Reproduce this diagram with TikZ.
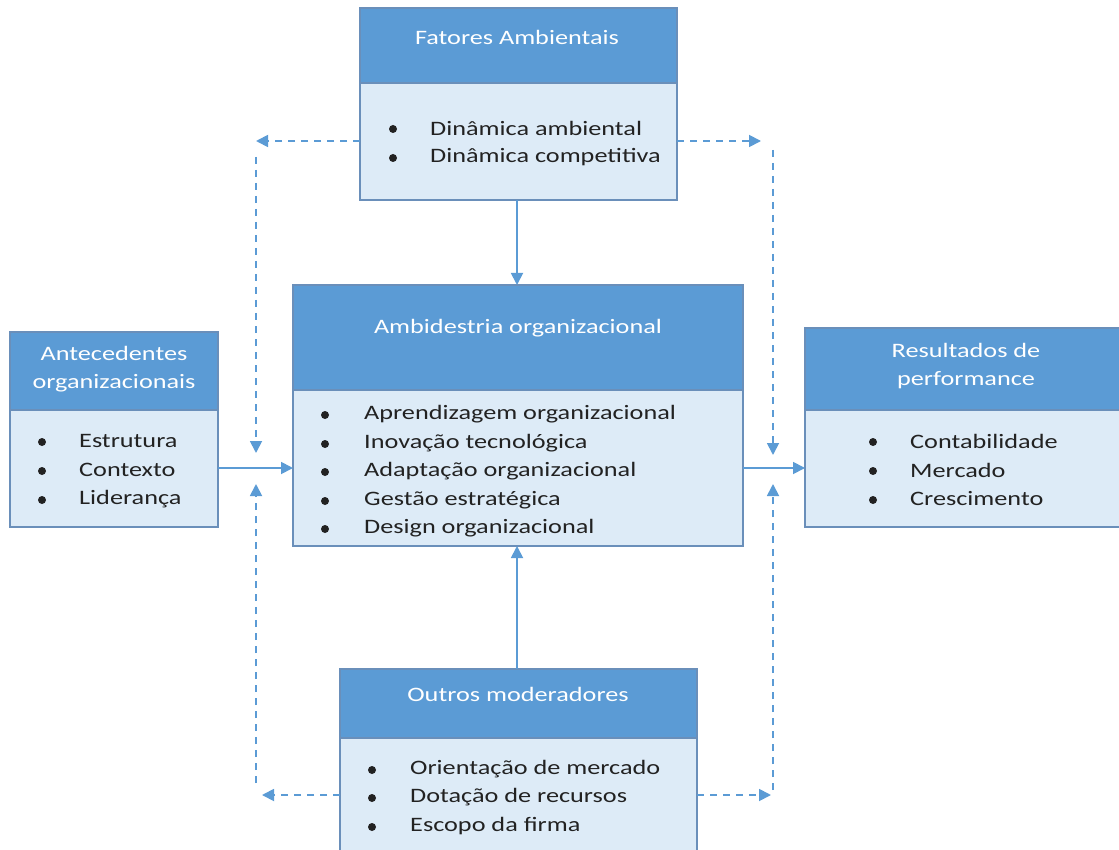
\documentclass[tikz,border=0pt]{standalone}
\usepackage{fontspec}
\setmainfont{Carlito}[FakeStretch=1.28]
\usetikzlibrary{arrows.meta}
\definecolor{hdrblue}{HTML}{5B9BD5}
\definecolor{bodyblue}{HTML}{DDEBF7}
\definecolor{edgeblue}{HTML}{6A8FBA}
\definecolor{linkblue}{HTML}{5B9BD5}
\definecolor{ink}{HTML}{222222}
\tikzset{
  hdr/.style={draw=edgeblue, line width=1.2pt, fill=hdrblue, anchor=north west, inner sep=0pt, outer sep=0pt},
  bodybox/.style={draw=edgeblue, line width=1.2pt, fill=bodyblue, anchor=north west, inner sep=0pt, outer sep=0pt},
  title/.style={text=white, font=\fontsize{20.5}{28}\selectfont, align=center, inner sep=0pt},
  item/.style={text=ink, font=\fontsize{20.5}{28}\selectfont, anchor=west, inner sep=0pt},
  dot/.style={circle, fill=ink, minimum size=8pt, inner sep=0pt},
  solidlink/.style={draw=linkblue, line width=1.8pt, -{Triangle[length=12pt, width=12pt]}},
  dashlink/.style={draw=linkblue, line width=1.8pt, dash pattern=on 7pt off 6pt, -{Triangle[length=12pt, width=12pt]}}
}
\begin{document}
\begin{tikzpicture}[x=1pt, y=-1pt]
\useasboundingbox (0,0) rectangle (1119,850);
\clip (0,0) rectangle (1119,850);

% Fatores Ambientais
\node[hdr, minimum width=317pt, minimum height=75pt] (fatH) at (360,8) {};
\node[bodybox, minimum width=317pt, minimum height=117pt] (fatB) at (360,83) {};
\node[title] (fatT) at (517,37) {Fatores Ambientais};
\node[dot] (fatd1) at (393,129) {}; \node[item] (fat1) at (430,128) {Dinâmica ambiental};
\node[dot] (fatd2) at (393,158) {}; \node[item] (fat2) at (430,157) {Dinâmica competitiva};

% Ambidestria organizacional
\node[hdr, minimum width=450pt, minimum height=105pt] (ambH) at (293,285) {};
\node[bodybox, minimum width=450pt, minimum height=156pt] (ambB) at (293,390) {};
\node[title] (ambT) at (518,328) {Ambidestria organizacional};
\node[dot] (ambd1) at (325,415) {}; \node[item] (amb1) at (364,414) {Aprendizagem organizacional};
\node[dot] (ambd2) at (325,444) {}; \node[item] (amb2) at (364,443) {Inovação tecnológica};
\node[dot] (ambd3) at (325,472) {}; \node[item] (amb3) at (364,471) {Adaptação organizacional};
\node[dot] (ambd4) at (325,501) {}; \node[item] (amb4) at (364,500) {Gestão estratégica};
\node[dot] (ambd5) at (325,529) {}; \node[item] (amb5) at (364,528) {Design organizacional};

% Antecedentes organizacionais
\node[hdr, minimum width=208pt, minimum height=78pt] (antH) at (10,332) {};
\node[bodybox, minimum width=208pt, minimum height=117pt] (antB) at (10,410) {};
\node[title] (antT) at (114,369) {Antecedentes\\organizacionais};
\node[dot] (antd1) at (42,442) {}; \node[item] (ant1) at (79,441) {Estrutura};
\node[dot] (antd2) at (42,471) {}; \node[item] (ant2) at (79,470) {Contexto};
\node[dot] (antd3) at (42,500) {}; \node[item] (ant3) at (79,499) {Liderança};

% Resultados de performance
\node[hdr, minimum width=320pt, minimum height=82pt] (resH) at (805,328) {};
\node[bodybox, minimum width=320pt, minimum height=117pt] (resB) at (805,410) {};
\node[title] (resT) at (966,366) {Resultados de\\performance};
\node[dot] (resd1) at (873,442) {}; \node[item] (res1) at (910,441) {Contabilidade};
\node[dot] (resd2) at (873,471) {}; \node[item] (res2) at (910,470) {Mercado};
\node[dot] (resd3) at (873,500) {}; \node[item] (res3) at (910,499) {Crescimento};

% Outros moderadores
\node[hdr, minimum width=357pt, minimum height=69pt] (outH) at (340,669) {};
\node[bodybox, minimum width=357pt, minimum height=130pt] (outB) at (340,738) {};
\node[title] (outT) at (518,694) {Outros moderadores};
\node[dot] (outd1) at (372,770) {}; \node[item] (out1) at (410,769) {Orientação de mercado};
\node[dot] (outd2) at (372,798) {}; \node[item] (out2) at (410,797) {Dotação de recursos};
\node[dot] (outd3) at (372,827) {}; \node[item] (out3) at (410,826) {Escopo da firma};

% solid links into and out of the central box
\draw[solidlink] (fatB.south -| 517,0) -- (ambH.north -| 517,0);
\draw[solidlink] (outH.north -| 517,0) -- (ambB.south -| 517,0);
\draw[solidlink] (antB.east |- 0,468) -- (ambB.west |- 0,468);
\draw[solidlink] (ambB.east |- 0,468) -- (resB.west |- 0,468);

% dashed moderating links
\coordinate (tlA) at (256,141);
\coordinate (tlB) at (256,157);
\coordinate (tlC) at (256,453);
\coordinate (trA) at (761,141);
\coordinate (trB) at (773,150);
\coordinate (trC) at (773,455);
\coordinate (blA) at (262,795);
\coordinate (blB) at (256,783);
\coordinate (blC) at (256,484);
\coordinate (brA) at (771,795);
\coordinate (brB) at (773,790);
\coordinate (brC) at (773,484);

\draw[dashlink] (fatB.west |- tlA) -- (tlA);
\draw[dashlink] (tlB) -- (tlC);
\draw[dashlink] (fatB.east |- trA) -- (trA);
\draw[dashlink] (trB) -- (trC);
\draw[dashlink] (outB.west |- blA) -- (blA);
\draw[dashlink] (blB) -- (blC);
\draw[dashlink] (outB.east |- brA) -- (brA);
\draw[dashlink] (brB) -- (brC);
\end{tikzpicture}
\end{document}
